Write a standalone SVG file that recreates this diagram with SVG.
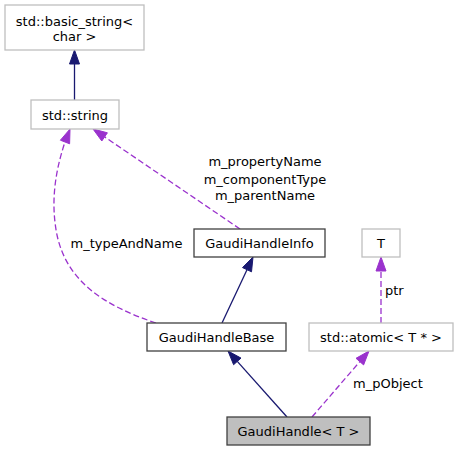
<svg xmlns="http://www.w3.org/2000/svg" width="458" height="451" viewBox="0 0 458 451">
<style>
text{font-family:"DejaVu Sans",sans-serif;font-size:13px;fill:#000}
.ext rect{fill:#fff;stroke:#bfbfbf;stroke-width:1.3}
.doc rect{fill:#fff;stroke:#404040;stroke-width:1.3}
.cur rect{fill:#bfbfbf;stroke:#404040;stroke-width:1.3}
.inh{stroke:#191970;stroke-width:1.3;fill:none}
.inhh{fill:#191970;stroke:#191970}
.use{stroke:#9a32cd;stroke-width:1.3;fill:none;stroke-dasharray:6,3}
.useh{fill:#9a32cd;stroke:#9a32cd}
</style>
<rect width="458" height="451" fill="#fff"/>
<g id="connectors">
<line class="inh" x1="74.5" y1="100" x2="74.5" y2="64"/>
<polygon class="inhh" points="74.5,50 69.5,64 79.5,64"/>
<line class="use" x1="240" y1="229" x2="104.6" y2="136.9"/>
<polygon class="useh" points="93,129 101.8,141 107.4,132.8"/>
<path class="use" d="M156,323 C105,306 67,282 57,235 C51,205 54,175 65,142"/>
<polygon class="useh" points="70,129 60.4,140.2 69.6,143.8"/>
<line class="inh" x1="222" y1="323" x2="247" y2="269.7"/>
<polygon class="inhh" points="253,257 242.5,267.6 251.5,271.8"/>
<line class="inh" x1="287" y1="417" x2="237.3" y2="361.4"/>
<polygon class="inhh" points="228,351 241,358.1 233.6,364.7"/>
<line class="use" x1="312" y1="417" x2="359.8" y2="361.6"/>
<polygon class="useh" points="369,351 356,358.3 363.6,364.9"/>
<line class="use" x1="381" y1="323" x2="381" y2="271"/>
<polygon class="useh" points="381,257 376,271 386,271"/>
<text x="265" y="166" text-anchor="middle">m_propertyName</text>
<text x="265" y="183.5" text-anchor="middle">m_componentType</text>
<text x="265" y="200" text-anchor="middle">m_parentName</text>
<text x="126.5" y="247.5" text-anchor="middle">m_typeAndName</text>
<text x="385" y="294.5">ptr</text>
<text x="353" y="387.5">m_pObject</text>
</g>
<g id="basic_string" class="ext">
<rect x="5" y="5" width="139" height="45"/>
<text x="74.5" y="25.5" text-anchor="middle">std::basic_string&lt;</text>
<text x="74.5" y="40.5" text-anchor="middle">char &gt;</text>
</g>
<g id="string" class="ext">
<rect x="31" y="100" width="88" height="29"/>
<text x="75" y="119.5" text-anchor="middle">std::string</text>
</g>
<g id="GaudiHandleInfo" class="doc">
<rect x="194" y="229" width="131" height="28"/>
<text x="259.5" y="247.5" text-anchor="middle">GaudiHandleInfo</text>
</g>
<g id="T" class="ext">
<rect x="362" y="229" width="38" height="28"/>
<text x="381" y="247.5" text-anchor="middle">T</text>
</g>
<g id="GaudiHandleBase" class="doc">
<rect x="147" y="323" width="139" height="28"/>
<text x="216.5" y="341.5" text-anchor="middle">GaudiHandleBase</text>
</g>
<g id="atomic" class="ext">
<rect x="309" y="323" width="144" height="28"/>
<text x="381" y="341.5" text-anchor="middle">std::atomic&lt; T * &gt;</text>
</g>
<g id="GaudiHandle" class="cur">
<rect x="227" y="417" width="143" height="28"/>
<text x="298.5" y="435.5" text-anchor="middle">GaudiHandle&lt; T &gt;</text>
</g>
</svg>
